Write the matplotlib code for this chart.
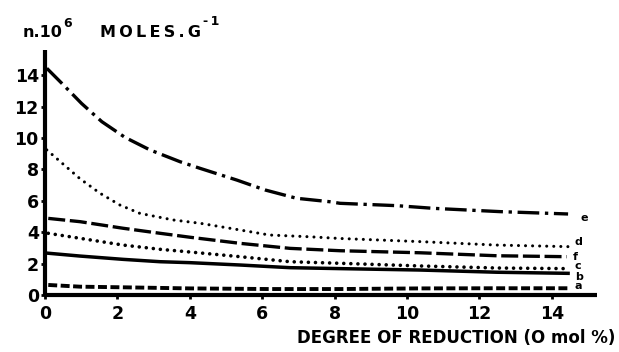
import matplotlib
matplotlib.use("Agg")
import matplotlib.pyplot as plt

# Data (x = degree of reduction, O mol %; y = n.10^6 moles/g)
x_e = [0.05, 0.5, 1.01, 1.57, 2.21, 2.9, 3.73, 4.28, 5.3, 6.08, 6.95, 7.87, 8.15, 9.72, 10.73, 12.57, 14.45]
y_e = [14.44, 13.4, 12.2, 11.04, 10.04, 9.24, 8.49, 8.07, 7.32, 6.69, 6.16, 5.94, 5.84, 5.69, 5.52, 5.31, 5.16]

x_d = [0.05, 0.97, 1.52, 2.07, 2.62, 3.54, 4.28, 5.11, 6.2, 7.3, 8.15, 10.36, 12.48, 14.45]
y_d = [9.24, 7.4, 6.48, 5.73, 5.2, 4.78, 4.57, 4.25, 3.82, 3.71, 3.6, 3.4, 3.18, 3.08]

x_f = [0.09, 0.97, 2.16, 3.18, 4.0, 5.39, 6.77, 8.15, 10.36, 12.48, 14.41]
y_f = [4.88, 4.67, 4.25, 3.93, 3.68, 3.29, 2.97, 2.82, 2.69, 2.5, 2.44]

x_c = [0.09, 0.97, 2.16, 3.18, 4.0, 5.39, 6.77, 8.15, 10.36, 12.48, 14.45]
y_c = [3.93, 3.61, 3.18, 2.91, 2.74, 2.44, 2.12, 2.02, 1.85, 1.72, 1.68]

x_b = [0.09, 0.97, 2.16, 3.18, 4.0, 5.39, 6.77, 8.15, 10.36, 12.48, 14.45]
y_b = [2.66, 2.48, 2.27, 2.12, 2.06, 1.91, 1.74, 1.68, 1.59, 1.45, 1.38]

x_a = [0.09, 0.97, 2.16, 4.0, 6.2, 8.15, 10.36, 12.48, 14.45]
y_a = [0.64, 0.53, 0.49, 0.42, 0.38, 0.38, 0.42, 0.43, 0.43]

curve_labels = ["e", "d", "f", "c", "b", "a"]
label_x = [14.78, 14.64, 14.58, 14.64, 14.64, 14.64]
label_y = [4.88, 3.4, 2.44, 1.85, 1.13, 0.55]

x_ticks = [0, 2, 4, 6, 8, 10, 12, 14]
y_ticks = [0, 2, 4, 6, 8, 10, 12, 14]

plt.rcParams['font.family'] = ['DejaVu Sans']
plt.rcParams['font.weight'] = 'bold'

W, H = 619, 352
fig = plt.figure(figsize=(W / 100, H / 100), dpi=100)


def fx(px):
    return px / W


def fy(py):
    return 1 - py / H


ax = fig.add_axes([fx(45), fy(295), (597 - 45) / W, (295 - 50) / H])

ax.plot(x_e, y_e, color='black', lw=2.4, linestyle=(0, (6.5, 1.7, 1.0, 1.7)))
ax.plot(x_d, y_d, color='black', lw=2.2, linestyle=(0, (0.01, 2.3)), dash_capstyle='round')
ax.plot(x_f, y_f, color='black', lw=2.4, linestyle=(0, (5.1, 1.4)))
ax.plot(x_c, y_c, color='black', lw=2.6, linestyle=(0, (0.01, 1.95)), dash_capstyle='round')
ax.plot(x_b, y_b, color='black', lw=2.5, linestyle='-')
ax.plot(x_a, y_a, color='black', lw=2.8, linestyle=(0, (2.3, 0.9)))

for lab, lx, ly in zip(curve_labels, label_x, label_y):
    ax.text(lx, ly, lab, fontsize=8, fontweight='bold', ha='left', va='center')

ax.set_xlim(0, (597 - 45) / 36.2)
ax.set_ylim(0, 245 / 15.7)
ax.set_xticks(x_ticks)
ax.set_yticks(y_ticks)
ax.set_xticklabels([str(v) for v in x_ticks], fontsize=12.5, fontweight='bold')
ax.set_yticklabels([str(v) for v in y_ticks], fontsize=12.5, fontweight='bold')
ax.tick_params(axis='both', direction='out', length=3, width=2)
ax.tick_params(axis='x', pad=4)
ax.tick_params(axis='y', pad=1.5)

for s in ['top', 'right']:
    ax.spines[s].set_visible(False)
for s in ['left', 'bottom']:
    ax.spines[s].set_linewidth(3)
    ax.spines[s].set_capstyle('butt')

# axis titles
fig.text(fx(615), fy(343), "DEGREE OF REDUCTION (O mol %)", ha='right', va='baseline',
         fontsize=12, fontweight='bold')
fig.text(fx(23), fy(37), "n.10", ha='left', va='baseline', fontsize=11.5, fontweight='bold')
fig.text(fx(63), fy(27), "6", ha='left', va='baseline', fontsize=9, fontweight='bold')
fig.text(fx(100), fy(37), "M\u2009O\u2009L\u2009E\u2009S\u2009.\u2009G", ha='left', va='baseline',
         fontsize=11.5, fontweight='bold')
fig.text(fx(203), fy(25), "-\u20091", ha='left', va='baseline', fontsize=9, fontweight='bold')

fig.savefig("out.png", dpi=100)
